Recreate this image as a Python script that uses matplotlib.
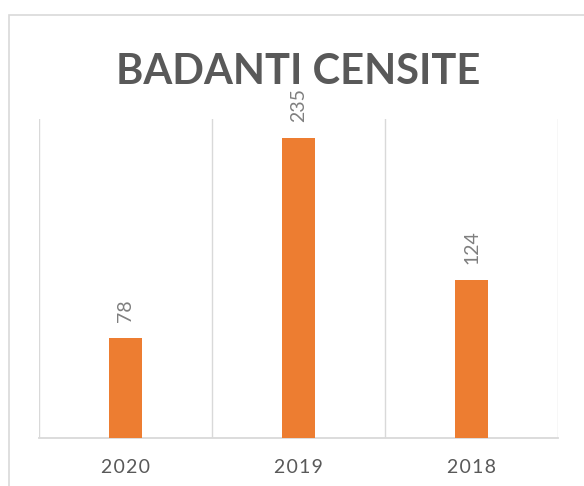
import matplotlib
matplotlib.use("Agg")
import matplotlib.pyplot as plt
from matplotlib.patches import Rectangle

plt.rcParams['font.family'] = ['Lato', 'DejaVu Sans']

# data
years = ['2020', '2019', '2018']
badanti = [78, 235, 124]

ORANGE = '#ED7D31'
GRID = '#D9D9D9'
DARK = '#595959'
LIGHT = '#7F7F7F'

W, H = 584, 486
fig = plt.figure(figsize=(W/100, H/100), dpi=100)

# chart border, cropped at the right and bottom in the reference
fig.patches.append(Rectangle((9/W, -0.5), 2.0, 1.5 - 15/H, transform=fig.transFigure,
                             fill=False, edgecolor=GRID, linewidth=1.2))

ax = fig.add_axes([39/W, 48/H, (558-39)/W, (438-119)/H])
x = list(range(len(years)))
bars = ax.bar(x, badanti, width=0.185, color=ORANGE, zorder=3)

ax.set_xlim(-0.5, len(years) - 0.5)
ax.set_ylim(0, 250)

# category gridlines between the bars
for b in [i - 0.5 for i in range(len(years) + 1)]:
    ax.axvline(b, color=GRID, linewidth=1.0, zorder=1)

for s in ['top', 'left', 'right']:
    ax.spines[s].set_visible(False)
ax.spines['bottom'].set_color(GRID)
ax.spines['bottom'].set_linewidth(1.3)
ax.set_yticks([])

ax.set_xticks(x)
ax.set_xticklabels(['\u200a'.join(y) for y in years], fontsize=14, color=DARK)
ax.tick_params(axis='x', length=0, pad=25)
for lab in ax.get_xticklabels():
    lab.set_va('baseline')

for rect, v in zip(bars, badanti):
    ax.annotate(str(v), (rect.get_x() + rect.get_width()/2, v),
                xytext=(0, 11.5), textcoords='offset points',
                rotation=90, ha='center', va='bottom',
                fontsize=14, color=LIGHT)

fig.text(298/W, 1 - 84/H, 'BADANTI CENSITE', ha='center', va='baseline',
         fontsize=30, fontweight='bold', color=DARK)

fig.savefig('out.png', dpi=100)
